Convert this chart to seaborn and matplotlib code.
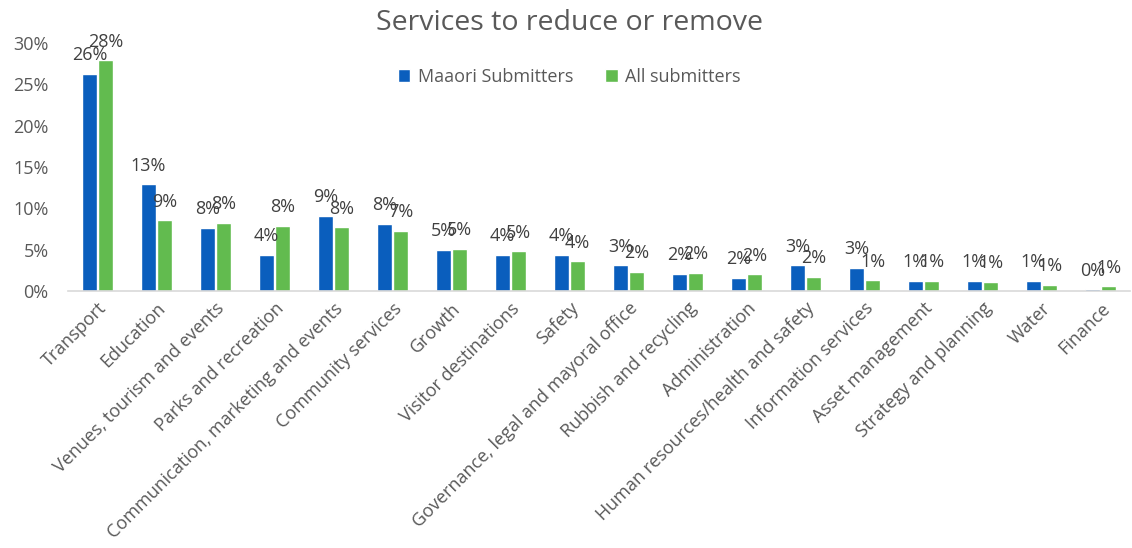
import matplotlib
matplotlib.use("Agg")
import matplotlib.pyplot as plt
import seaborn as sns
import pandas as pd

categories = [
    "Transport", "Education", "Venues, tourism and events", "Parks and recreation",
    "Communication, marketing and events", "Community services", "Growth",
    "Visitor destinations", "Safety", "Governance, legal and mayoral office",
    "Rubbish and recycling", "Administration", "Human resources/health and safety",
    "Information services", "Asset management", "Strategy and planning",
    "Water", "Finance",
]
maaori = [26.3, 12.9, 7.6, 4.4, 9.1, 8.1, 5.0, 4.4, 4.4, 3.1, 2.1, 1.6, 3.1, 2.8, 1.2, 1.2, 1.2, 0.2]
all_sub = [27.9, 8.55, 8.2, 7.9, 7.7, 7.25, 5.1, 4.8, 3.6, 2.3, 2.2, 2.0, 1.7, 1.3, 1.2, 1.1, 0.7, 0.55]
series_names = ["Maaori Submitters", "All submitters"]
y_ticks = [0, 5, 10, 15, 20, 25, 30]

df = pd.DataFrame({
    "category": categories * 2,
    "series": [series_names[0]] * len(categories) + [series_names[1]] * len(categories),
    "value": maaori + all_sub,
})

sns.set_theme(style="white")
plt.rcParams["font.family"] = ["Open Sans", "DejaVu Sans"]

tick_grey = "#595959"
label_grey = "#404040"
palette = {series_names[0]: "#0A5EBD", series_names[1]: "#62BB4F"}
fs = 13

fig = plt.figure(figsize=(11.32, 5.48), dpi=100)
ax = fig.add_axes([68 / 1132, 1 - 291 / 548, 1062 / 1132, 248 / 548])

sns.barplot(data=df, x="category", y="value", hue="series", order=categories,
            hue_order=series_names, palette=palette, width=0.55, gap=0.08,
            saturation=1, ax=ax)

for cont in ax.containers:
    vals = [b.get_height() for b in cont]
    ax.bar_label(cont, labels=[f"{v:.0f}%" for v in vals], padding=7,
                 fontsize=fs, color=label_grey)

ax.set_xlim(-0.5, len(categories) - 0.5)
ax.set_ylim(0, 30)
ax.set_yticks(y_ticks)
ax.set_yticklabels([f"{t}%" for t in y_ticks], fontsize=fs, color=tick_grey)
ax.set_xticks(range(len(categories)))
ax.set_xticklabels(categories, rotation=45, ha="right", rotation_mode="anchor",
                   fontsize=fs, color=tick_grey)
ax.tick_params(axis="x", length=0, pad=6)
ax.tick_params(axis="y", length=0, pad=14)
ax.set_xlabel("")
ax.set_ylabel("")

for side in ["top", "right", "left"]:
    ax.spines[side].set_visible(False)
ax.spines["bottom"].set_color("#D9D9D9")
ax.spines["bottom"].set_linewidth(1.2)
ax.grid(False)

ax.legend(loc="center", bbox_to_anchor=(0.472, 0.863), ncol=2, frameon=False,
          fontsize=fs, handlelength=0.7, handleheight=0.7, handletextpad=0.4,
          columnspacing=1.8, labelcolor=tick_grey)

fig.text(0.503, 1 - 23 / 548, "Services to reduce or remove", ha="center", va="center",
         fontsize=20.5, color=tick_grey)

fig.savefig("out.png", dpi=100, facecolor="white")
